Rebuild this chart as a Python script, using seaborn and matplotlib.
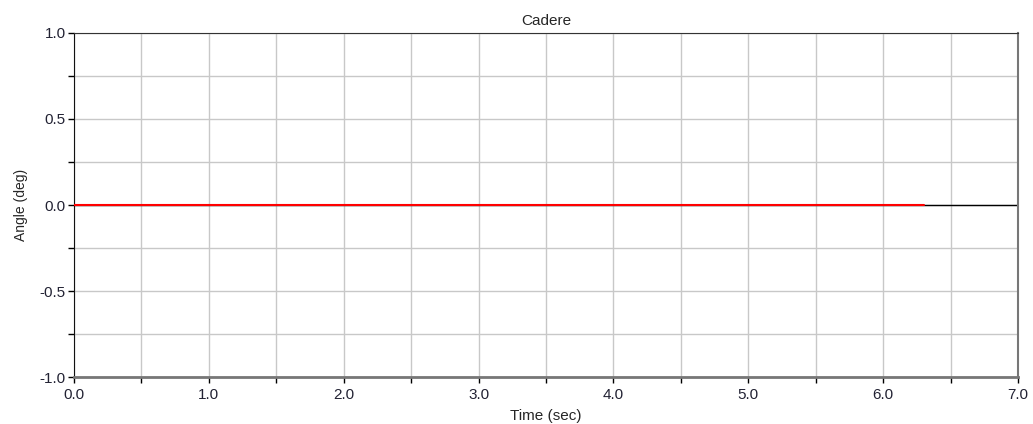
import matplotlib
matplotlib.use("Agg")
import matplotlib.pyplot as plt
import numpy as np
import seaborn as sns
from matplotlib.ticker import MultipleLocator, FormatStrFormatter

# values
time_sec = [0.0, 6.3]
angle_deg = [0.0, 0.0]

sns.set_style("white")
plt.rcParams['font.family'] = ['Liberation Sans', 'DejaVu Sans']

fig = plt.figure(figsize=(10.33, 4.24), dpi=100)
ax = fig.add_axes([0.0716, 0.1108, 0.9139, 0.8114])

ax.axhline(0, color='black', lw=1.0, zorder=2)
sns.lineplot(x=time_sec, y=angle_deg, color='red', lw=1.5, ax=ax, zorder=3)

ax.set_xlim(0, 7)
ax.set_ylim(-1, 1)
ax.xaxis.set_major_locator(MultipleLocator(1.0))
ax.xaxis.set_minor_locator(MultipleLocator(0.5))
ax.yaxis.set_major_locator(MultipleLocator(0.5))
ax.yaxis.set_minor_locator(MultipleLocator(0.25))
ax.xaxis.set_major_formatter(FormatStrFormatter('%.1f'))
ax.yaxis.set_major_formatter(FormatStrFormatter('%.1f'))

ax.grid(True, which='both', color='#c8c8c8', lw=1.0)
ax.set_axisbelow(True)

ax.tick_params(which='both', direction='out', length=4, width=1, color='black',
               labelsize=11, labelcolor='#222233', pad=2, bottom=True, left=True)
ax.tick_params(axis='x', pad=4)

ax.spines['top'].set_color('#333333')
ax.spines['left'].set_color('#111111')
ax.spines['bottom'].set_color('#777777')
ax.spines['bottom'].set_linewidth(2)
ax.spines['right'].set_color('#777777')
ax.spines['right'].set_linewidth(1.5)

ax.set_title('Cadere', fontsize=11, pad=6)
ax.set_xlabel('Time (sec)', fontsize=11, labelpad=5)
ax.set_ylabel('Angle (deg)', fontsize=10, labelpad=8)

fig.savefig('out.png', dpi=100)
